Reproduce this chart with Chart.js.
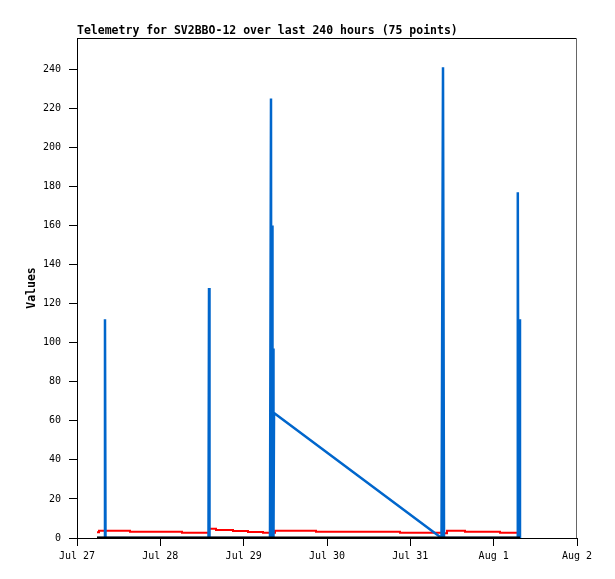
<!DOCTYPE html>
<html>
<head>
<meta charset="utf-8">
<script src="https://cdn.jsdelivr.net/npm/chart.js@4.4.1/dist/chart.umd.min.js"></script>
<style>
  html, body { margin: 0; padding: 0; background: #fff; }
  #wrap { width: 615px; height: 579px; }
</style>
</head>
<body>
<div id="wrap"><canvas id="telemetry" width="615" height="579"></canvas></div>
<script>
// hours since Jul 27 00:00
const xTickHours = [0, 24, 48, 72, 96, 120, 144];
const xTickLabels = ['Jul 27', 'Jul 28', 'Jul 29', 'Jul 30', 'Jul 31', 'Aug 1', 'Aug 2'];
const yTicks = [0, 20, 40, 60, 80, 100, 120, 140, 160, 180, 200, 220, 240];

const blueHours = [5.76, 7.92, 8.06, 8.21, 37.87, 38.02, 38.16, 55.58, 55.87, 55.96, 56.16, 56.30,
                   56.45, 56.59, 56.74, 104.98, 105.41, 105.70, 126.72, 126.95, 127.15, 127.44, 127.58];
const blueValues = [0, 0, 112, 0, 0, 128, 0, 0, 225, 0, 160, 32,
                    97, 0, 64, 0, 241, 0, 0, 177, 0, 112, 0];

const redHours = [5.76, 6.34, 15.26, 30.24, 38.02, 40.03, 44.93, 49.25, 53.57,
                  57.02, 68.83, 93.02, 105.41, 106.56, 111.74, 121.82, 126.72];
const redValues = [2.9, 3.7, 3.2, 2.7, 4.8, 4.1, 3.6, 3.1, 2.7,
                   3.7, 3.2, 2.7, 2.4, 3.7, 3.2, 2.7, 2.7];

const blackHours = [5.76, 38.02, 56.74, 105.41, 127.58];
const blackValues = [0, 0, 0, 0, 0];

const toPoints = (xs, ys) => xs.map((x, i) => ({ x: x, y: ys[i] }));

const monoFont = '"DejaVu Sans Mono", "Liberation Mono", monospace';

// top and right frame of the plot area
const frame = {
    id: 'frame',
    afterDraw(chart) {
        const { ctx, chartArea } = chart;
        const l = Math.round(chartArea.left) + 0.5;
        const r = Math.round(chartArea.right) - 0.5;
        const t = Math.round(chartArea.top) + 0.5;
        const b = Math.round(chartArea.bottom);
        ctx.save();
        ctx.lineWidth = 1;
        ctx.strokeStyle = '#000';
        ctx.beginPath();
        ctx.moveTo(l, t);
        ctx.lineTo(r, t);
        ctx.stroke();
        ctx.strokeStyle = '#666';
        ctx.beginPath();
        ctx.moveTo(r, t);
        ctx.lineTo(r, b);
        ctx.stroke();
        ctx.restore();
    }
};

new Chart(document.getElementById('telemetry'), {
    type: 'line',
    data: {
        datasets: [
            {
                data: toPoints(blackHours, blackValues),
                borderColor: '#000000',
                borderWidth: 3
            },
            {
                data: toPoints(blueHours, blueValues),
                borderColor: '#0066cc',
                borderWidth: 2.5
            },
            {
                data: toPoints(redHours, redValues),
                borderColor: '#ff0000',
                borderWidth: 2,
                stepped: true
            }
        ]
    },
    options: {
        responsive: false,
        animation: false,
        parsing: false,
        elements: {
            point: { radius: 0 },
            line: { tension: 0, fill: false, borderCapStyle: 'butt' }
        },
        layout: { padding: { left: 0, right: 38, top: 0, bottom: 0 } },
        plugins: {
            legend: { display: false },
            tooltip: { enabled: false },
            title: {
                display: true,
                text: 'Telemetry for SV2BBO-12 over last 240 hours (75 points)',
                align: 'start',
                fullSize: false,
                color: '#000',
                font: { family: monoFont, size: 11.5, weight: 'bold', lineHeight: '14px' },
                padding: { top: 24, bottom: 0 }
            }
        },
        scales: {
            x: {
                type: 'linear',
                min: 0,
                max: 144,
                afterBuildTicks: (axis) => {
                    axis.ticks = xTickHours.map(v => ({ value: v }));
                },
                afterFit: (axis) => { axis.height = 41; },
                ticks: {
                    autoSkip: false,
                    maxRotation: 0,
                    color: '#000',
                    padding: 4,
                    font: { family: monoFont, size: 10 },
                    callback: (value) => xTickLabels[xTickHours.indexOf(value)]
                },
                grid: { drawOnChartArea: false, drawTicks: true, tickLength: 8, color: '#000' },
                border: { color: '#000', width: 1 }
            },
            y: {
                type: 'linear',
                min: 0,
                max: 256,
                afterBuildTicks: (axis) => {
                    axis.ticks = yTicks.map(v => ({ value: v }));
                },
                afterFit: (axis) => { axis.width = 77; },
                title: {
                    display: true,
                    text: 'Values',
                    color: '#000',
                    font: { family: monoFont, size: 11.5, weight: 'bold', lineHeight: '14px' },
                    padding: { top: 25, bottom: 0 }
                },
                ticks: {
                    color: '#000',
                    padding: 8,
                    font: { family: monoFont, size: 10 }
                },
                grid: { drawOnChartArea: false, drawTicks: true, tickLength: 8, color: '#000' },
                border: { color: '#000', width: 1 }
            }
        }
    },
    plugins: [frame]
});
</script>
</body>
</html>
